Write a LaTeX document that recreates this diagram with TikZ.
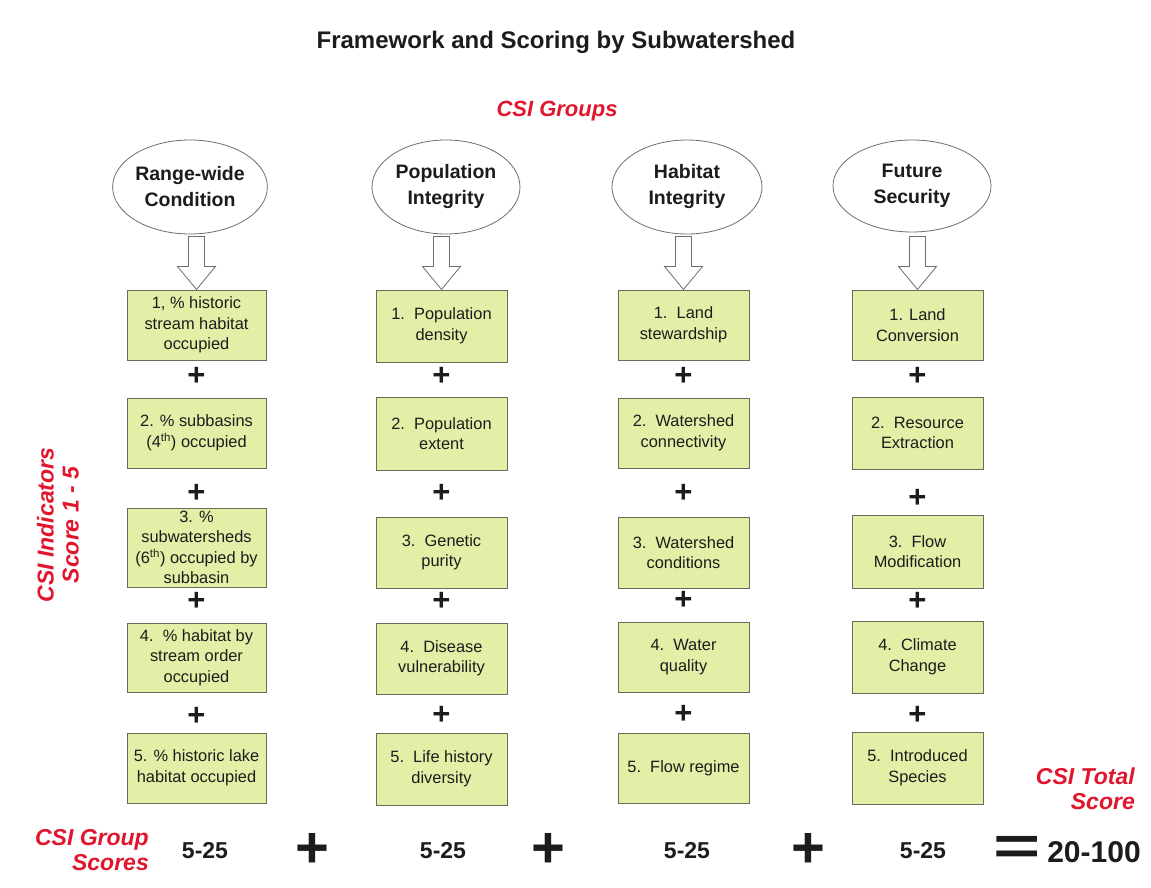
\documentclass[tikz,border=0pt]{standalone}
\usepackage{fontspec}
\setmainfont{Liberation Sans}
\usetikzlibrary{shapes.geometric}
\definecolor{boxfill}{RGB}{228,238,166}
\definecolor{boxedge}{RGB}{105,108,88}
\definecolor{csired}{RGB}{225,22,45}
\definecolor{txt}{RGB}{28,28,28}
\definecolor{ringedge}{RGB}{110,110,110}
\tikzset{
  group/.style={ellipse, draw=ringedge, fill=white, line width=0.8pt, align=center,
    inner sep=0pt, text=txt, font=\fontsize{19.5}{26}\selectfont\bfseries},
  indicator/.style={rectangle, draw=boxedge, fill=boxfill, line width=1pt, align=center,
    inner sep=0pt, text=txt, font=\fontsize{16.4}{20.5}\selectfont},
  hollowarrow/.style={draw=ringedge, fill=white, line width=0.8pt, line join=miter},
  smallplus/.style={text=txt, inner sep=0pt, font=\fontsize{31}{31}\selectfont\bfseries},
  bigplus/.style={text=txt, inner sep=0pt, font=\fontsize{58}{58}\selectfont\bfseries},
  score/.style={text=txt, inner sep=0pt, font=\fontsize{23}{23}\selectfont\bfseries},
  redlabel/.style={text=csired, inner sep=0pt, font=\fontsize{23}{25}\selectfont\bfseries\itshape},
}
\begin{document}
\begin{tikzpicture}[x=1pt,y=1pt]
\useasboundingbox[fill=white] (0,0) rectangle (1151,-888);

% headings
\node[text=txt, font=\fontsize{24}{24}\selectfont\bfseries] (title) at (556,-42) {Framework and Scoring by Subwatershed};
\node[redlabel, font=\fontsize{22}{22}\selectfont\bfseries\itshape] (groups) at (557,-111) {CSI Groups};
\node[redlabel, rotate=90, align=center] (indic) at (58,-525) {CSI Indicators\\Score 1 - 5};

% CSI groups
\node[group, minimum width=136, minimum height=94] (e1) at (190,-187) {Range-wide\\Condition};
\node[group, minimum width=148, minimum height=94] (e2) at (446,-187) {Population\\Integrity};
\node[group, minimum width=150, minimum height=94] (e3) at (687,-187) {Habitat\\Integrity};
\node[group, minimum width=158, minimum height=92] (e4) at (912,-186) {Future\\Security};

% column 1 indicators
\node[indicator, minimum width=139, minimum height=70] (a1) at (196.5,-325) {1, \% historic\\stream habitat\\occupied};
\node[indicator, minimum width=139, minimum height=70] (a2) at (196.5,-433) {2. \% subbasins\\(4\textsuperscript{th}) occupied};
\node[indicator, minimum width=139, minimum height=79] (a3) at (196.5,-547.5) {3. \%\\subwatersheds\\(6\textsuperscript{th}) occupied by\\subbasin};
\node[indicator, minimum width=139, minimum height=69] (a4) at (196.5,-657.5) {4.\ \ \% habitat by\\stream order\\occupied};
\node[indicator, minimum width=139, minimum height=70] (a5) at (196.5,-768) {5. \% historic lake\\habitat occupied};

% column 2 indicators
\node[indicator, minimum width=131, minimum height=72] (b1) at (441.5,-326) {1.\ \ Population\\density};
\node[indicator, minimum width=131, minimum height=73] (b2) at (441.5,-433.5) {2.\ \ Population\\extent};
\node[indicator, minimum width=131, minimum height=71] (b3) at (441.5,-552.5) {3.\ \ Genetic\\purity};
\node[indicator, minimum width=131, minimum height=71] (b4) at (441.5,-658.5) {4.\ \ Disease\\vulnerability};
\node[indicator, minimum width=131, minimum height=72] (b5) at (441.5,-769) {5.\ \ Life history\\diversity};

% column 3 indicators
\node[indicator, minimum width=131, minimum height=70] (c1) at (683.5,-325) {1.\ \ Land\\stewardship};
\node[indicator, minimum width=131, minimum height=70] (c2) at (683.5,-433) {2.\ \ Watershed\\connectivity};
\node[indicator, minimum width=131, minimum height=71] (c3) at (683.5,-552.5) {3.\ \ Watershed\\conditions};
\node[indicator, minimum width=131, minimum height=70] (c4) at (683.5,-657) {4.\ \ Water\\quality};
\node[indicator, minimum width=131, minimum height=70] (c5) at (683.5,-768) {5.\ \ Flow regime};

% column 4 indicators
\node[indicator, minimum width=131, minimum height=70] (d1) at (917.5,-325) {1. Land\\Conversion};
\node[indicator, minimum width=131, minimum height=72] (d2) at (917.5,-433) {2.\ \ Resource\\Extraction};
\node[indicator, minimum width=131, minimum height=73] (d3) at (917.5,-551.5) {3.\ \ Flow\\Modification};
\node[indicator, minimum width=131, minimum height=72] (d4) at (917.5,-657) {4.\ \ Climate\\Change};
\node[indicator, minimum width=131, minimum height=72] (d5) at (917.5,-768) {5.\ \ Introduced\\Species};

% hollow arrows from each group down to its first indicator
\foreach \b in {a1,b1,c1,d1}{
  \draw[hollowarrow] (\b.north) -- ++(-19,23) -- ++(11,0) -- ++(0,30)
    -- ++(16,0) -- ++(0,-30) -- ++(11,0) -- cycle;
}

% plus signs between indicators
\node[smallplus] (pa1) at (196.5,-376) {+};
\node[smallplus] (pa2) at (196.5,-493) {+};
\node[smallplus] (pa3) at (196.5,-601) {+};
\node[smallplus] (pa4) at (196.5,-716) {+};
\node[smallplus] (pb1) at (441.5,-376) {+};
\node[smallplus] (pb2) at (441.5,-493) {+};
\node[smallplus] (pb3) at (441.5,-601) {+};
\node[smallplus] (pb4) at (441.5,-715) {+};
\node[smallplus] (pc1) at (683.5,-376) {+};
\node[smallplus] (pc2) at (683.5,-493) {+};
\node[smallplus] (pc3) at (683.5,-600) {+};
\node[smallplus] (pc4) at (683.5,-714) {+};
\node[smallplus] (pd1) at (917.5,-376) {+};
\node[smallplus] (pd2) at (917.5,-498) {+};
\node[smallplus] (pd3) at (917.5,-601) {+};
\node[smallplus] (pd4) at (917.5,-715) {+};

% group scores and total
\node[redlabel, align=right, anchor=east] (gs) at (149,-850) {CSI Group\\Scores};
\node[redlabel, align=right, anchor=east] (ts) at (1135,-789) {CSI Total\\Score};
\node[score] (s1) at (205,-851) {5-25};
\node[bigplus] (q1) at (312,-850) {+};
\node[score] (s2) at (443,-851) {5-25};
\node[bigplus] (q2) at (548,-850) {+};
\node[score] (s3) at (687,-851) {5-25};
\node[bigplus] (q3) at (808,-850) {+};
\node[score] (s4) at (923,-851) {5-25};
\node[text=txt, inner sep=0pt, font=\fontsize{54}{54}\selectfont\bfseries] (eq) at (1017,-850) {\scalebox{1.5}[1]{=}};
\node[score, font=\fontsize{30}{30}\selectfont\bfseries] (tot) at (1094,-852) {20-100};
\end{tikzpicture}
\end{document}
